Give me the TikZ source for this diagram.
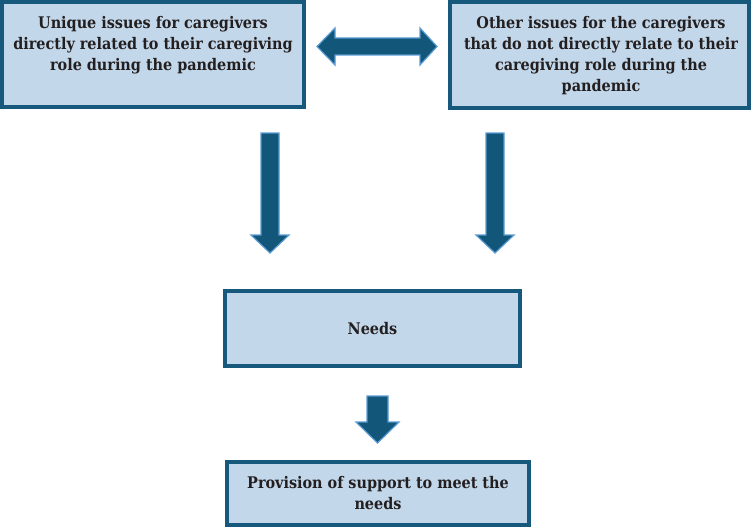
\documentclass[tikz,border=0pt]{standalone}
\usepackage{fontspec}
\setmainfont{DejaVu Serif Condensed}
\definecolor{boxfill}{HTML}{C3D7EA}
\definecolor{boxedge}{HTML}{16597D}
\definecolor{arrfill}{HTML}{125779}
\definecolor{arredge}{HTML}{5A9BD3}
\definecolor{txt}{HTML}{231F20}
\begin{document}
\begin{tikzpicture}[x=1pt,y=-1pt,
  lbl/.style={font=\bfseries\fontsize{16}{21}\selectfont, text=txt, align=center, inner sep=0pt},
  box/.style={lbl, draw=boxedge, fill=boxfill, line width=4pt, outer sep=0pt},
  blockarrow/.style={fill=arrfill, draw=arredge, line width=1.2pt, line join=miter}]
\useasboundingbox (0,0) rectangle (754,527);
\node[box, minimum width=302pt, minimum height=105pt] (issA) at (153,54.5) {};
\node[lbl, anchor=north] (tA) at (153,16)
  {Unique issues for caregivers\\directly related to their caregiving\\role during the pandemic};
\node[box, minimum width=299pt, minimum height=106pt] (issB) at (599.5,55) {};
\node[lbl, anchor=north] (tB) at (601,16)
  {Other issues for the caregivers\\that do not directly relate to their\\caregiving role during the\\pandemic};
\node[box, minimum width=295pt, minimum height=75pt] (needs) at (372.5,328.5) {Needs};
\node[box, minimum width=302pt, minimum height=63pt] (prov) at (378,493.5)
  {Provision of support to meet the\\needs};
% double arrow between top boxes
\draw[blockarrow] (317,46.5) -- (335,28) -- (335,38) -- (420,38) -- (420,28) -- (437,46.5)
  -- (420,65) -- (420,55) -- (335,55) -- (335,65) -- cycle;
% down arrows
\draw[blockarrow] (261,133) -- (279,133) -- (279,235) -- (289,235) -- (270,253) -- (251,235) -- (261,235) -- cycle;
\draw[blockarrow] (486,133) -- (504,133) -- (504,235) -- (514,235) -- (495,253) -- (476,235) -- (486,235) -- cycle;
\draw[blockarrow] (367,396) -- (388,396) -- (388,422) -- (399,422) -- (377.5,443) -- (356,422) -- (367,422) -- cycle;
\end{tikzpicture}
\end{document}
